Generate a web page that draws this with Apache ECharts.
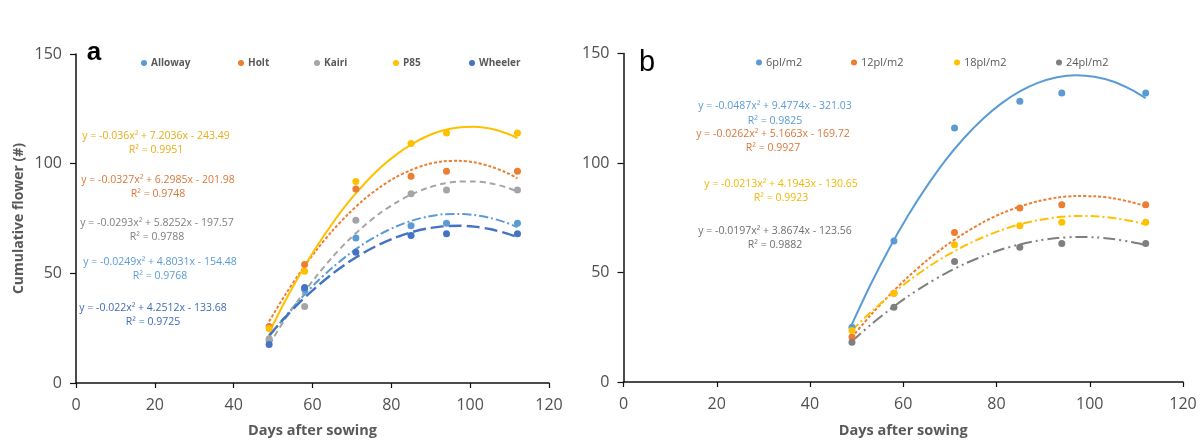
<!DOCTYPE html>
<html>
<head>
<meta charset="utf-8">
<script src="https://cdn.jsdelivr.net/npm/echarts@6/dist/echarts.min.js"></script>
<style>
html,body{margin:0;padding:0;background:#fff;}
#c{width:1203px;height:443px;}
</style>
</head>
<body>
<div id="c"></div>
<script>
// ---- observed data (days after sowing) ----
const days = [49, 58, 71, 85, 94, 112];

// Panel a: cultivars
const cultivarNames = ['Alloway', 'Holt', 'Kairi', 'P85', 'Wheeler'];
const alloway = [19.5, 42.6, 66.1, 71.7, 72.8, 72.8];
const holt    = [25.8, 54.0, 88.4, 94.3, 96.5, 96.5];
const kairi   = [20.2, 34.9, 74.2, 86.3, 88.0, 88.0];
const p85     = [24.8, 51.0, 91.9, 109.2, 114.0, 114.0];
const wheeler = [17.6, 43.5, 59.6, 67.2, 68.1, 68.1];

// Panel b: plant densities
const densityNames = ['6pl/m2', '12pl/m2', '18pl/m2', '24pl/m2'];
const d6  = [25.0, 64.4, 116.0, 128.2, 132.0, 132.0];
const d12 = [20.5, 40.5, 68.3, 79.4, 80.9, 80.9];
const d18 = [23.5, 40.5, 62.7, 71.4, 72.9, 72.9];
const d24 = [18.2, 34.1, 55.0, 61.5, 63.2, 63.2];

// ---- trend curves ----
const trendDays = [49, 53, 57, 61, 65, 69, 73, 77, 81, 85, 89, 93, 97, 101, 105, 109, 112];
const allowayTrend = [21.1, 30.1, 38.4, 45.9, 52.5, 58.4, 63.5, 67.7, 71.2, 73.9, 75.8, 76.9, 77.1, 76.6, 75.3, 73.2, 71.1];
const holtTrend    = [28.1, 40.0, 50.8, 60.6, 69.3, 76.9, 83.6, 89.1, 93.7, 97.1, 99.6, 101.0, 101.3, 100.6, 98.8, 96.1, 93.3];
const kairiTrend   = [17.5, 28.9, 39.3, 48.7, 57.3, 64.9, 71.5, 77.3, 82.0, 85.9, 88.8, 90.8, 91.8, 91.9, 91.1, 89.3, 87.3];
const p85Trend     = [23.1, 37.2, 50.2, 62.0, 72.6, 82.2, 90.5, 97.8, 103.8, 108.7, 112.5, 115.1, 116.5, 116.8, 116.0, 114.0, 111.7];
const wheelerTrend = [21.8, 29.8, 37.2, 43.8, 49.7, 54.9, 59.4, 63.2, 66.3, 68.7, 70.4, 71.4, 71.7, 71.3, 70.2, 68.3, 66.5];

const d6Trend  = [26.4, 44.5, 61.0, 75.9, 89.2, 101.1, 111.3, 120.0, 127.1, 132.7, 136.7, 139.2, 140.1, 139.4, 137.2, 133.4, 129.6];
const d12Trend = [20.5, 30.5, 39.6, 47.9, 55.4, 62.0, 67.8, 72.8, 76.9, 80.1, 82.6, 84.2, 84.9, 84.8, 83.9, 82.1, 80.3];
const d18Trend = [23.7, 31.8, 39.2, 45.9, 52.0, 57.4, 62.0, 66.0, 69.3, 72.0, 73.9, 75.2, 75.8, 75.7, 74.9, 73.5, 71.9];
const d24Trend = [18.6, 26.1, 32.9, 39.1, 44.6, 49.5, 53.8, 57.4, 60.5, 62.8, 64.6, 65.7, 66.2, 66.1, 65.3, 63.9, 62.5];

// ---- equation labels ----
const eqA = [
  ['y = -0.036x\u00B2 + 7.2036x - 243.49', 'R\u00B2 = 0.9951'],
  ['y = -0.0327x\u00B2 + 6.2985x - 201.98', 'R\u00B2 = 0.9748'],
  ['y = -0.0293x\u00B2 + 5.8252x - 197.57', 'R\u00B2 = 0.9788'],
  ['y = -0.0249x\u00B2 + 4.8031x - 154.48', 'R\u00B2 = 0.9768'],
  ['y = -0.022x\u00B2 + 4.2512x - 133.68', 'R\u00B2 = 0.9725']
];
const eqB = [
  ['y = -0.0487x\u00B2 + 9.4774x - 321.03', 'R\u00B2 = 0.9825'],
  ['y = -0.0262x\u00B2 + 5.1663x - 169.72', 'R\u00B2 = 0.9927'],
  ['y = -0.0213x\u00B2 + 4.1943x - 130.65', 'R\u00B2 = 0.9923'],
  ['y = -0.0197x\u00B2 + 3.8674x - 123.56', 'R\u00B2 = 0.9882']
];

const xTicks = [0, 20, 40, 60, 80, 100, 120];
const yTicks = [0, 50, 100, 150];

function pairs(xs, ys) { return xs.map((x, i) => [x, ys[i]]); }

const FONT = '"Open Sans", "Noto Sans", sans-serif';
const colA = { Alloway: '#5B9BD5', Holt: '#ED7D31', Kairi: '#A5A5A5', P85: '#FFC000', Wheeler: '#4472C4' };
const colB = { '6pl/m2': '#5B9BD5', '12pl/m2': '#ED7D31', '18pl/m2': '#FFC000', '24pl/m2': '#7F7F7F' };

const chart = echarts.init(document.getElementById('c'), null, { renderer: 'canvas' });

function xAxisDef(gi, nameGap) {
  return {
    type: 'value', gridIndex: gi, min: xTicks[0], max: xTicks[xTicks.length - 1], interval: 20,
    name: 'Days after sowing', nameLocation: 'middle', nameGap: nameGap,
    nameTextStyle: { fontFamily: FONT, fontSize: 14.5, fontWeight: 'bold', color: '#595959' },
    axisLine: { lineStyle: { color: '#111', width: 1.5 } },
    axisTick: { show: true, length: 5, lineStyle: { color: '#111', width: 1.2 } },
    axisLabel: { fontFamily: FONT, fontSize: 16, color: '#505050', margin: 14 },
    splitLine: { show: false }
  };
}
function yAxisDef(gi, withName) {
  const o = {
    type: 'value', gridIndex: gi, min: yTicks[0], max: yTicks[yTicks.length - 1], interval: 50,
    axisLine: { show: true, lineStyle: { color: '#111', width: 1.5 } },
    axisTick: { show: true, length: 6, lineStyle: { color: '#111', width: 1.2 } },
    axisLabel: { fontFamily: FONT, fontSize: 16, color: '#505050', margin: 14 },
    splitLine: { show: false }
  };
  if (withName) {
    o.name = 'Cumulative flower (#)';
    o.nameLocation = 'middle';
    o.nameGap = 50;
    o.nameTextStyle = { fontFamily: FONT, fontSize: 14, fontWeight: 'bold', color: '#595959' };
  }
  return o;
}

const dashA = { Alloway: [9, 3, 2, 3], Holt: [3, 2], Kairi: [6, 4], P85: 'solid', Wheeler: [13, 5] };
const widthA = { Alloway: 2, Holt: 2, Kairi: 2, P85: 2, Wheeler: 2.4 };
const dashB = { '6pl/m2': 'solid', '12pl/m2': [3, 2], '18pl/m2': [9, 3, 2, 3], '24pl/m2': [12, 4, 2, 4, 2, 4] };

const pointsA = { Alloway: alloway, Holt: holt, Kairi: kairi, P85: p85, Wheeler: wheeler };
const trendsA = { Alloway: allowayTrend, Holt: holtTrend, Kairi: kairiTrend, P85: p85Trend, Wheeler: wheelerTrend };
const pointsB = { '6pl/m2': d6, '12pl/m2': d12, '18pl/m2': d18, '24pl/m2': d24 };
const trendsB = { '6pl/m2': d6Trend, '12pl/m2': d12Trend, '18pl/m2': d18Trend, '24pl/m2': d24Trend };

const series = [];
cultivarNames.forEach(n => {
  series.push({
    name: n + ' trend', type: 'line', xAxisIndex: 0, yAxisIndex: 0, smooth: 0.3,
    showSymbol: false, silent: true, data: pairs(trendDays, trendsA[n]),
    lineStyle: { color: colA[n], width: widthA[n], type: dashA[n] }, z: 2
  });
});
densityNames.forEach(n => {
  series.push({
    name: n + ' trend', type: 'line', xAxisIndex: 1, yAxisIndex: 1, smooth: 0.3,
    showSymbol: false, silent: true, data: pairs(trendDays, trendsB[n]),
    lineStyle: { color: colB[n], width: 2, type: dashB[n] }, z: 2
  });
});
cultivarNames.forEach(n => {
  series.push({
    name: n, type: 'scatter', xAxisIndex: 0, yAxisIndex: 0, symbolSize: 7,
    data: pairs(days, pointsA[n]), itemStyle: { color: colA[n], opacity: 1 }, z: 3
  });
});
densityNames.forEach(n => {
  series.push({
    name: n, type: 'scatter', xAxisIndex: 1, yAxisIndex: 1, symbolSize: 7,
    data: pairs(days, pointsB[n]), itemStyle: { color: colB[n], opacity: 1 }, z: 3
  });
});

// legends, one per entry
const legendLeftA = [136, 233, 309, 388, 464];
const legendLeftB = [751, 846, 949, 1051];
const legends = [];
cultivarNames.forEach((n, i) => legends.push({
  data: [n], left: legendLeftA[i], top: 53, icon: 'circle', itemWidth: 6, itemHeight: 6, itemGap: 4,
  selectedMode: false, textStyle: { fontFamily: FONT, fontSize: 10, fontWeight: 'bold', color: '#595959', padding: [0, 0, 0, -1] }
}));
densityNames.forEach((n, i) => legends.push({
  data: [n], left: legendLeftB[i], top: 52, icon: 'circle', itemWidth: 6, itemHeight: 6,
  selectedMode: false, textStyle: { fontFamily: FONT, fontSize: 11, color: '#595959', padding: [0, 0, 0, -1] }
}));

// equation annotations
const eqColA = ['#E8AE16', '#D9773A', '#7F7F7F', '#5B9BD5', '#3F6BB8'];
const eqPosA = [[156, 136, 150], [158, 180, 194], [157, 223, 237], [160, 262, 276], [153, 308, 322]];
const eqColB = ['#5B9BD5', '#D9773A', '#F2B705', '#6F6F6F'];
const eqPosB = [[775, 106, 121], [773, 134, 148], [781, 184, 198], [775, 231, 245]];
const graphic = [];
function addEq(lines, cols, pos) {
  lines.forEach((l, i) => {
    graphic.push({ type: 'text', x: pos[i][0], y: pos[i][1], silent: true,
      style: { text: l[0], fill: cols[i], fontFamily: FONT, fontSize: 10.5, align: 'center', verticalAlign: 'middle' } });
    graphic.push({ type: 'text', x: pos[i][0], y: pos[i][2], silent: true,
      style: { text: l[1], fill: cols[i], fontFamily: FONT, fontSize: 10.5, align: 'center', verticalAlign: 'middle' } });
  });
}
addEq(eqA, eqColA, eqPosA);
addEq(eqB, eqColB, eqPosB);
graphic.push({ type: 'text', x: 94, y: 53, silent: true,
  style: { text: 'a', fill: '#000', fontFamily: '"Liberation Sans", Arial, sans-serif', fontSize: 26, fontWeight: 'bold', align: 'center', verticalAlign: 'middle' } });
graphic.push({ type: 'text', x: 647, y: 63, silent: true,
  style: { text: 'b', fill: '#000', fontFamily: '"Liberation Sans", Arial, sans-serif', fontSize: 29, align: 'center', verticalAlign: 'middle' } });

chart.setOption({
  animation: false,
  backgroundColor: '#ffffff',
  grid: [
    { left: 76, right: 654, top: 54, bottom: 58.5 },
    { left: 623.5, right: 20, top: 53.5, bottom: 59.5 }
  ],
  xAxis: [xAxisDef(0, 40), xAxisDef(1, 41)],
  yAxis: [yAxisDef(0, true), yAxisDef(1, false)],
  legend: legends,
  graphic: graphic,
  series: series
});
</script>
</body>
</html>
